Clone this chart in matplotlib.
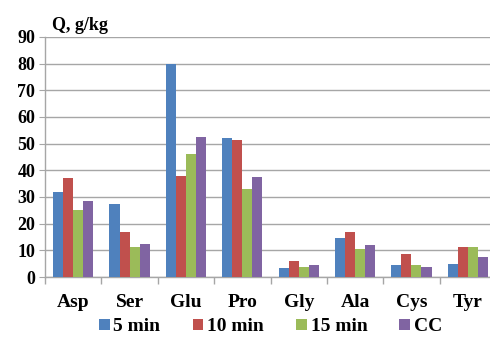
import numpy as np
import matplotlib.pyplot as plt

# data
amino = ['Asp', 'Ser', 'Glu', 'Pro', 'Gly', 'Ala', 'Cys', 'Tyr']
min5 = [32.0, 27.4, 80.0, 52.1, 3.5, 14.6, 4.5, 5.0]
min10 = [37.3, 17.0, 37.7, 51.4, 6.1, 16.9, 8.5, 11.4]
min15 = [25.1, 11.1, 46.0, 33.0, 3.9, 10.6, 4.5, 11.4]
cc = [28.4, 12.5, 52.5, 37.4, 4.5, 12.1, 3.9, 7.5]
series_names = ['5 min', '10 min', '15 min', 'CC']
yticks = np.arange(0, 91, 10)

colors = ['#4F81BD', '#C0504D', '#9BBB59', '#8064A2']
plt.rcParams['font.family'] = 'Liberation Serif'
plt.rcParams['font.weight'] = 'bold'

fig = plt.figure(figsize=(4.9, 3.37), dpi=100)
ax = fig.add_axes([45 / 490, 60 / 337, 451 / 490, 240 / 337])

x = np.arange(len(amino))
w = 0.178
for i, (vals, name) in enumerate(zip([min5, min10, min15, cc], series_names)):
    ax.bar(x + (i - 1.5) * w, vals, width=w, color=colors[i], label=name,
           edgecolor='none', zorder=3)

ax.set_xlim(-0.5, len(amino) - 0.5)
ax.set_ylim(0, 90)
ax.set_yticks(yticks)
ax.yaxis.grid(True, color='#A6A6A6', linewidth=1.0, zorder=0)

ax.set_xticks(x)
ax.set_xticklabels(amino, fontsize=14, fontweight='bold')
ax.set_xticks(np.arange(-0.5, len(amino), 1), minor=True)
ax.tick_params(axis='x', which='major', length=0, pad=12)
ax.tick_params(axis='x', which='minor', length=5, color='#A6A6A6', width=1)
ax.tick_params(axis='y', length=4, color='#A6A6A6', labelsize=13, pad=3)
for lab in ax.get_yticklabels():
    lab.set_fontweight('bold')

for side in ['top', 'right']:
    ax.spines[side].set_visible(False)
for side in ['left', 'bottom']:
    ax.spines[side].set_color('#A6A6A6')
    ax.spines[side].set_linewidth(1.0)

ax.text(0.015, 1.03, 'Q, g/kg', transform=ax.transAxes, fontsize=13,
        fontweight='bold', va='baseline', ha='left')

ax.legend(loc='upper center', bbox_to_anchor=(0.5, -0.14), ncol=4,
          frameon=False, handlelength=0.55, handleheight=0.55,
          handletextpad=0.2, columnspacing=1.65, borderaxespad=0,
          prop={'weight': 'bold', 'size': 14})

fig.savefig('out.png', dpi=100)
